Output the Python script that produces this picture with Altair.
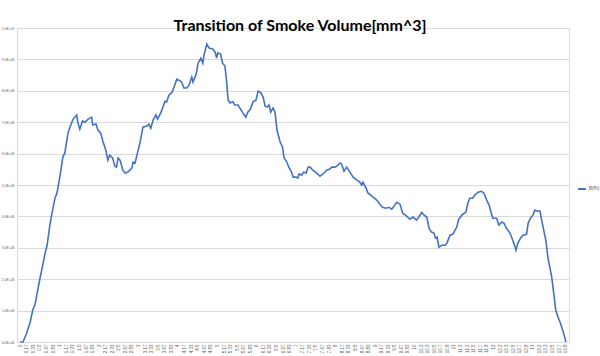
import altair as alt
import pandas as pd

# elapsed time [min]
minutes = [0, 0.07, 0.16, 0.25, 0.32, 0.37, 0.50, 0.58, 0.63, 0.68, 0.75, 0.80, 0.88, 0.93,
           1.01, 1.08, 1.13, 1.21, 1.26, 1.34, 1.43, 1.46, 1.51, 1.58, 1.64, 1.72, 1.81, 1.84,
           1.92, 1.97, 2.04, 2.10, 2.17, 2.22, 2.27, 2.34, 2.40, 2.44, 2.48, 2.53, 2.60, 2.66,
           2.73, 2.83, 2.86, 2.91, 2.96, 3.04, 3.11, 3.21, 3.26, 3.31, 3.37, 3.44, 3.48, 3.56,
           3.61, 3.67, 3.71, 3.77, 3.84, 3.90, 3.97, 4.02, 4.09, 4.15, 4.22, 4.28, 4.35, 4.38,
           4.46, 4.51, 4.58, 4.63, 4.66, 4.73, 4.79, 4.88, 4.94, 4.98, 5.01, 5.08, 5.13, 5.19,
           5.23, 5.27, 5.32, 5.39, 5.44, 5.52, 5.57, 5.65, 5.72, 5.77, 5.84, 5.90, 5.98, 6.03,
           6.10, 6.16, 6.21, 6.26, 6.31, 6.35, 6.41, 6.46, 6.51, 6.59, 6.65, 6.69, 6.76, 6.81,
           6.88, 6.92, 6.99, 7.04, 7.07, 7.14, 7.19, 7.25, 7.30, 7.35, 7.42, 7.52, 7.60, 7.68,
           7.77, 7.85, 7.90, 7.98, 8.03, 8.11, 8.15, 8.21, 8.28, 8.36, 8.44, 8.53, 8.61, 8.66,
           8.69, 8.77, 8.82, 8.89, 8.95, 9.04, 9.12, 9.19, 9.27, 9.35, 9.42, 9.48, 9.55, 9.63,
           9.70, 9.80, 9.88, 9.96, 10.05, 10.11, 10.18, 10.24, 10.31, 10.37, 10.43, 10.49,
           10.53, 10.57, 10.62, 10.69, 10.77, 10.82, 10.90, 10.97, 11.07, 11.12, 11.22, 11.30,
           11.35, 11.40, 11.47, 11.53, 11.61, 11.70, 11.76, 11.83, 11.89, 11.96, 11.99, 12.08,
           12.14, 12.21, 12.27, 12.33, 12.42, 12.49, 12.55, 12.57, 12.62, 12.69, 12.75, 12.84,
           12.88, 12.94, 13.00, 13.05, 13.10, 13.18, 13.24, 13.33, 13.38, 13.48, 13.53, 13.58,
           13.64, 13.70, 13.76, 13.84]

# smoke volume [mm^3]
volume = [0, 0, 0.28e6, 0.63e6, 1.04e6, 1.17e6, 2.03e6, 2.51e6, 2.83e6, 3.08e6, 3.72e6, 4.07e6,
          4.58e6, 4.74e6, 5.31e6, 5.89e6, 6.02e6, 6.65e6, 6.84e6, 7.10e6, 7.23e6, 7.00e6,
          6.78e6, 7.04e6, 7.00e6, 7.10e6, 7.16e6, 6.91e6, 6.94e6, 6.75e6, 6.65e6, 6.37e6,
          6.11e6, 5.79e6, 5.95e6, 5.86e6, 5.60e6, 5.57e6, 5.86e6, 5.79e6, 5.47e6, 5.38e6,
          5.41e6, 5.54e6, 5.73e6, 5.70e6, 5.95e6, 6.37e6, 6.84e6, 6.88e6, 6.94e6, 6.81e6,
          7.07e6, 7.23e6, 7.10e6, 7.29e6, 7.45e6, 7.67e6, 7.64e6, 7.86e6, 7.94e6, 8.12e6,
          8.37e6, 8.34e6, 8.29e6, 8.09e6, 8.09e6, 8.18e6, 8.44e6, 8.28e6, 8.53e6, 8.88e6,
          9.04e6, 8.88e6, 9.14e6, 9.49e6, 9.36e6, 9.33e6, 9.24e6, 9.04e6, 9.21e6, 9.17e6,
          8.88e6, 8.79e6, 8.34e6, 7.71e6, 7.61e6, 7.65e6, 7.55e6, 7.55e6, 7.45e6, 7.29e6,
          7.16e6, 7.32e6, 7.42e6, 7.64e6, 7.71e6, 7.99e6, 7.94e6, 7.80e6, 7.51e6, 7.48e6,
          7.55e6, 7.32e6, 7.45e6, 7.32e6, 6.75e6, 6.37e6, 6.21e6, 5.86e6, 5.73e6, 5.57e6,
          5.41e6, 5.25e6, 5.25e6, 5.22e6, 5.35e6, 5.32e6, 5.41e6, 5.38e6, 5.57e6, 5.57e6,
          5.47e6, 5.38e6, 5.28e6, 5.35e6, 5.47e6, 5.51e6, 5.57e6, 5.57e6, 5.60e6, 5.70e6,
          5.67e6, 5.44e6, 5.57e6, 5.41e6, 5.25e6, 5.16e6, 5.09e6, 5.00e6, 5.09e6, 4.90e6,
          4.74e6, 4.68e6, 4.61e6, 4.52e6, 4.39e6, 4.29e6, 4.26e6, 4.29e6, 4.23e6, 4.33e6,
          4.45e6, 4.39e6, 4.10e6, 4.01e6, 3.91e6, 3.98e6, 3.88e6, 3.98e6, 4.13e6, 4.04e6,
          3.98e6, 3.62e6, 3.50e6, 3.47e6, 3.31e6, 3.34e6, 3.02e6, 3.08e6, 3.08e6, 3.15e6,
          3.40e6, 3.43e6, 3.66e6, 3.91e6, 4.07e6, 4.13e6, 4.42e6, 4.58e6, 4.58e6, 4.68e6,
          4.77e6, 4.80e6, 4.74e6, 4.52e6, 4.36e6, 4.04e6, 3.94e6, 3.94e6, 3.72e6, 3.82e6,
          3.78e6, 3.62e6, 3.47e6, 3.24e6, 3.02e6, 2.92e6, 3.15e6, 3.31e6, 3.40e6, 3.43e6,
          3.78e6, 3.94e6, 4.04e6, 4.20e6, 4.17e6, 4.17e6, 3.78e6, 3.24e6, 2.70e6, 2.06e6,
          1.55e6, 1.01e6, 0.79e6, 0.60e6, 0.37e6, 0]

series_name = "B(Pt)"
tick_minutes = [round(i / 6, 2) for i in range(84)]
y_ticks = [0, 1e6, 2e6, 3e6, 4e6, 5e6, 6e6, 7e6, 8e6, 9e6, 1e7]
title_text = "Transition of Smoke Volume[mm^3]"

df = pd.DataFrame({"minute": minutes, "volume": volume, "series": series_name})

y_label_expr = (
    "datum.value == 0 ? '0.0E+00' : "
    "format(datum.value / pow(10, floor(log(datum.value) / LN10 + 0.000001)), '.1f') + 'E+0' + "
    "floor(log(datum.value) / LN10 + 0.000001)"
)

chart = alt.Chart(df).mark_line(strokeWidth=1.6).encode(
    x=alt.X(
        "minute:Q",
        scale=alt.Scale(domain=[-0.0833, 13.9167], nice=False, zero=False),
        axis=alt.Axis(
            values=tick_minutes, format="~g", labelAngle=270, labelFontSize=4.5,
            labelColor="#595959", grid=False, ticks=False, domainColor="#d9d9d9",
            labelPadding=2, title=None, labelOverlap=False, labelBound=False,
            labelFlush=False, labelFont="Liberation Sans",
        ),
    ),
    y=alt.Y(
        "volume:Q",
        scale=alt.Scale(domain=[0, 1e7], nice=False),
        axis=alt.Axis(
            values=y_ticks, labelExpr=y_label_expr, labelFontSize=3.4, labelColor="#595959",
            gridColor="#d9d9d9", gridWidth=1, ticks=False, domainColor="#d9d9d9",
            labelPadding=3, title=None, labelFont="Liberation Sans",
        ),
    ),
    color=alt.Color(
        "series:N",
        scale=alt.Scale(range=["#4472C4"]),
        legend=alt.Legend(
            orient="none", legendX=560, legendY=156, title=None, symbolType="stroke",
            symbolStrokeWidth=2, symbolSize=60, labelFontSize=4.5, labelColor="#595959",
            padding=0, labelFont="Liberation Sans", labelOffset=2,
        ),
    ),
).properties(
    width=552,
    height=314,
    title=alt.TitleParams(
        title_text, fontSize=16, font="Lato", fontWeight="bold", color="#000000",
        anchor="middle", offset=0, dx=7, dy=8,
    ),
    padding={"left": 17, "top": 28, "right": 31, "bottom": 14},
    autosize=alt.AutoSizeParams(type="none"),
).configure_view(stroke=None).configure(background="white")

chart.save("out.html", embed_options={"renderer": "svg", "actions": False})
